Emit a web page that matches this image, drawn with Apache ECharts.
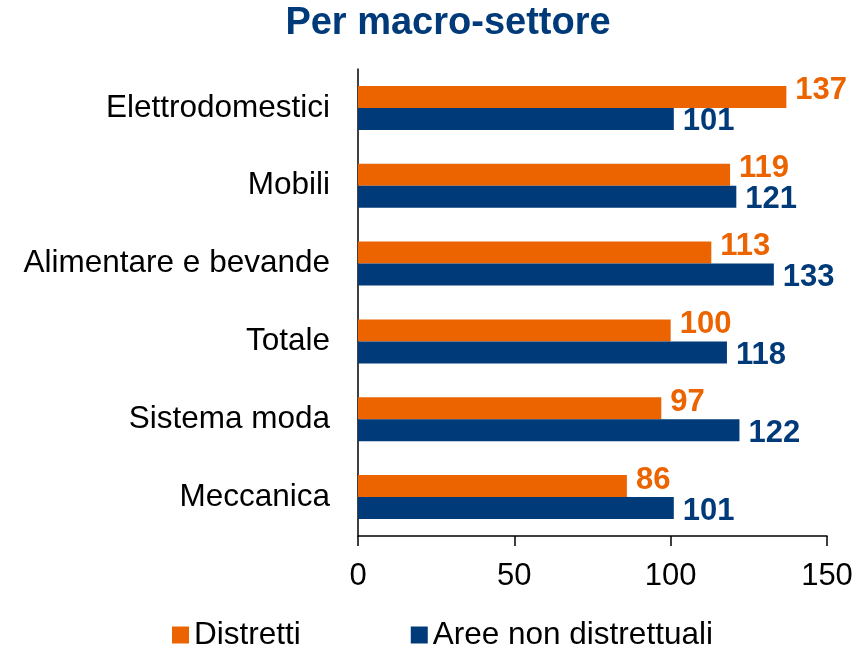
<!DOCTYPE html>
<html>
<head>
<meta charset="utf-8">
<script src="https://cdn.jsdelivr.net/npm/echarts@6/dist/echarts.min.js"></script>
<style>html,body{margin:0;padding:0;background:#fff}#c{width:865px;height:647px}</style>
</head>
<body>
<div id="c"></div>
<script>
const categories = ['Elettrodomestici', 'Mobili', 'Alimentare e bevande', 'Totale', 'Sistema moda', 'Meccanica'];
const distretti = [137, 119, 113, 100, 97, 86];
const areeNonDistrettuali = [101, 121, 133, 118, 122, 101];
const seriesNames = ['Distretti', 'Aree non distrettuali'];
const xTicks = [0, 50, 100, 150];

const ORANGE = '#EB6400';
const BLUE = '#003A78';
const FONT = 'Liberation Sans, Arial, sans-serif';

const chart = echarts.init(document.getElementById('c'), null, {renderer: 'canvas'});
chart.setOption({
  animation: false,
  backgroundColor: '#fff',
  title: {
    text: 'Per macro-settore',
    left: 448, top: 5, textAlign: 'center', padding: 0,
    textStyle: {fontFamily: FONT, fontSize: 38, fontWeight: 'bold', color: BLUE}
  },
  legend: {
    data: seriesNames,
    left: 172, top: 619, padding: 0,
    itemWidth: 17, itemHeight: 17, itemGap: 110,
    icon: 'rect',
    textStyle: {fontFamily: FONT, fontSize: 31.5, color: '#000'}
  },
  grid: {left: 358, right: 38, top: 69, bottom: 111, containLabel: false},
  xAxis: {
    type: 'value', min: xTicks[0], max: xTicks[xTicks.length - 1], interval: 50,
    axisLine: {show: true, lineStyle: {color: '#000', width: 1.5}},
    axisTick: {show: true, length: 10, lineStyle: {color: '#000', width: 1.5}},
    splitLine: {show: false},
    axisLabel: {fontFamily: FONT, fontSize: 31, color: '#000', margin: 25}
  },
  yAxis: {
    type: 'category', data: categories, inverse: true,
    axisLine: {show: true, lineStyle: {color: '#000', width: 1.5}},
    axisTick: {show: false},
    axisLabel: {fontFamily: FONT, fontSize: 31.5, color: '#000', margin: 28}
  },
  series: [
    {
      name: seriesNames[0], type: 'bar', data: distretti,
      barWidth: 22, barGap: '0%',
      itemStyle: {color: ORANGE},
      label: {show: true, position: 'right', distance: 9, offset: [0, -6],
        fontFamily: FONT, fontSize: 31, fontWeight: 'bold', color: ORANGE}
    },
    {
      name: seriesNames[1], type: 'bar', data: areeNonDistrettuali,
      barWidth: 22, barGap: '0%',
      itemStyle: {color: BLUE},
      label: {show: true, position: 'right', distance: 9, offset: [0, 3],
        fontFamily: FONT, fontSize: 31, fontWeight: 'bold', color: BLUE}
    }
  ]
});
</script>
</body>
</html>
